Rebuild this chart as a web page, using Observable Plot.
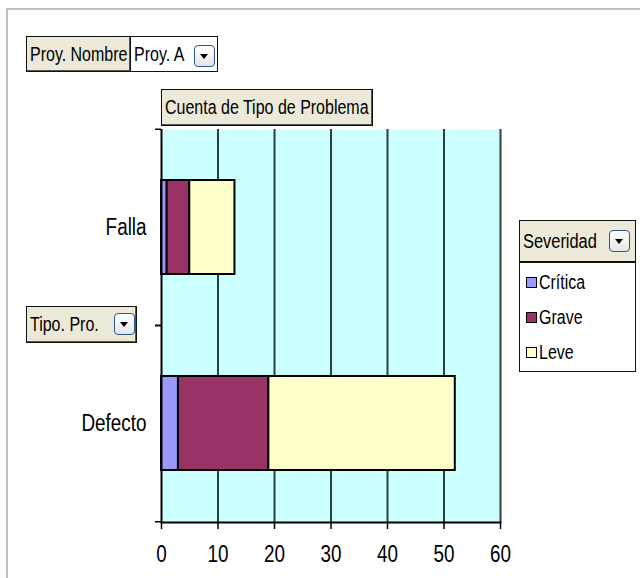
<!DOCTYPE html>
<html><head><meta charset="utf-8">
<script src="https://cdn.jsdelivr.net/npm/d3@7"></script>
<script src="https://cdn.jsdelivr.net/npm/@observablehq/plot@0.6"></script>
<style>
html,body{margin:0;padding:0;background:#fff;}
body{width:640px;height:578px;overflow:hidden;position:relative;font-family:"Liberation Sans",Arial,sans-serif;color:#000;}
#chart{position:absolute;left:0;top:0;}
.bord-top{position:absolute;left:6px;top:8px;width:634px;height:2px;background:#c0c0c0;}
.bord-left{position:absolute;left:6px;top:8px;width:2px;height:570px;background:#c0c0c0;}
.btn{position:absolute;box-sizing:border-box;background:#ECE9D8;border:1px solid #111;box-shadow:inset -1px -1px 0 #555;font-size:19.5px;display:flex;align-items:center;padding-left:3px;white-space:nowrap;}
.white{background:#fff;box-shadow:none;}
.nar{display:inline-block;transform:scaleX(0.82);transform-origin:left center;white-space:nowrap;}
.dd{position:absolute;box-sizing:border-box;width:21px;height:22px;border:1.5px solid #2b5797;border-radius:4px;background:linear-gradient(#fff,#e6e6e6);}
.dd::after{content:"";position:absolute;left:5px;top:8px;border-left:4.5px solid transparent;border-right:4.5px solid transparent;border-top:5px solid #000;}
.legend{position:absolute;box-sizing:border-box;border:1px solid #111;background:#fff;}
.legend .head{position:relative;height:40px;background:#ECE9D8;border-bottom:2px solid #111;font-size:20px;display:flex;align-items:center;padding-left:3px;}
.legend .item{position:absolute;left:6px;font-size:19.5px;display:flex;align-items:center;}
.legend .sw{width:9px;height:9px;border:1px solid #000;margin-right:2px;}
</style>
</head><body>
<div class="bord-top"></div><div class="bord-left"></div>
<div id="chart"></div>
<div id="ui"></div>
<script>
const categories = ["Falla", "Defecto"];
const severities = ["Crítica", "Grave", "Leve"];
const colors = ["#9999FF", "#993366", "#FFFFCC"];
const critica = [1, 3];
const grave = [4, 16];
const leve = [8, 33];
const xTicks = [0, 10, 20, 30, 40, 50, 60];
const fieldPage = "Proy. Nombre";
const fieldPageValue = "Proy. A";
const dataField = "Cuenta de Tipo de Problema";
const rowField = "Tipo. Pro.";
const seriesField = "Severidad";

const series = [critica, grave, leve];
const table = categories.flatMap((c, i) => severities.map((s, j) => ({cat: c, sev: s, value: series[j][i]})));

const W = 640, H = 578, mT = 129, mB = 56, mL = 161, mR = 140;
const step = (H - mT - mB) / categories.length;
const font = '"Liberation Sans",Arial,sans-serif';

const chart = Plot.plot({
  width: W, height: H,
  marginTop: mT, marginBottom: mB, marginLeft: mL, marginRight: mR,
  x: {domain: [0, 60], label: null},
  y: {domain: categories, paddingInner: 0.52, paddingOuter: 0.26, label: null},
  color: {domain: severities, range: colors},
  style: {fontFamily: font, fontSize: "23px", background: "transparent", color: "#000"},
  marks: [
    Plot.frame({fill: "#CCFFFF", stroke: null}),
    Plot.gridX(xTicks.slice(1), {stroke: "#2f3f3f", strokeOpacity: 1, strokeWidth: 2}),
    Plot.barX(table, Plot.stackX({x: "value", y: "cat", fill: "sev", stroke: "#000", strokeWidth: 2, order: severities})),
    Plot.ruleX([0], {stroke: "#000", strokeWidth: 2}),
    Plot.frame({anchor: "bottom", stroke: "#000", strokeWidth: 2}),
    Plot.axisX(xTicks, {tickSize: 7, tickPadding: 16, fontSize: 23, stroke: "#000", strokeWidth: 1.5, label: null}),
    Plot.axisY({tickSize: 0, tickPadding: 15, fontSize: 23, label: null}),
    Plot.axisY({tickSize: 6, text: null, dy: step / 2, stroke: "#000", strokeWidth: 1.5, label: null}),
    Plot.axisY({tickSize: 6, text: null, dy: -step / 2, stroke: "#000", strokeWidth: 1.5, label: null})
  ]
});
document.getElementById("chart").appendChild(chart);
// condense SVG text like the narrow original font
chart.querySelectorAll("text").forEach(t => {
  const w = t.getComputedTextLength();
  if (w > 0) {
    t.setAttribute("textLength", (w * 0.82).toFixed(1));
    t.setAttribute("lengthAdjust", "spacingAndGlyphs");
  }
});

const ui = document.getElementById("ui");
function el(cls, style, text) {
  const d = document.createElement("div");
  d.className = cls;
  Object.assign(d.style, style);
  if (text != null) {
    const s = document.createElement("span");
    s.className = "nar";
    s.textContent = text;
    d.appendChild(s);
  }
  ui.appendChild(d);
  return d;
}
el("btn", {left: "26px", top: "36px", width: "105px", height: "36px"}, fieldPage);
el("btn white", {left: "130px", top: "36px", width: "88px", height: "36px"}, fieldPageValue);
el("dd", {left: "194px", top: "45px"});
el("btn", {left: "161px", top: "89px", width: "212px", height: "37px"}, dataField);
el("btn", {left: "26px", top: "306px", width: "111px", height: "37px"}, rowField);
el("dd", {left: "114px", top: "313px"});
const lg = el("legend", {left: "519px", top: "220px", width: "117px", height: "152px"});
const head = document.createElement("div");
head.className = "head";
head.innerHTML = `<span class="nar">${seriesField}</span>`;
lg.appendChild(head);
const dd = document.createElement("div");
dd.className = "dd";
Object.assign(dd.style, {left: "89px", top: "9px"});
head.appendChild(dd);
severities.forEach((s, i) => {
  const it = document.createElement("div");
  it.className = "item";
  it.style.top = (50 + i * 35) + "px";
  it.innerHTML = `<span class="sw" style="background:${colors[i]}"></span><span class="nar">${s}</span>`;
  lg.appendChild(it);
});
</script>
</body></html>
